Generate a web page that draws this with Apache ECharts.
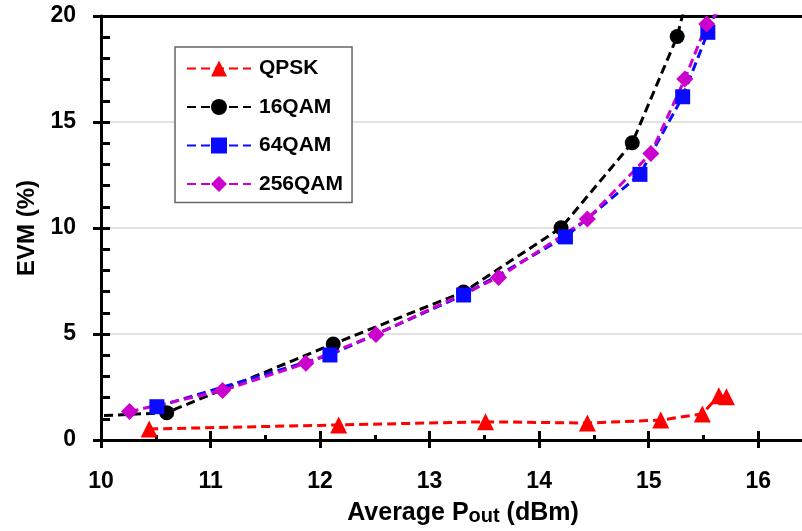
<!DOCTYPE html>
<html>
<head>
<meta charset="utf-8">
<style>
  html, body { margin: 0; padding: 0; background: #fff; }
  #chart { width: 802px; height: 531px; }
</style>
<script src="https://cdn.jsdelivr.net/npm/echarts@6/dist/echarts.min.js"></script>
</head>
<body>
<div id="chart"></div>
<script>
// Average output power (dBm) vs EVM (%) per modulation scheme
const seriesNames = ['QPSK', '16QAM', '64QAM', '256QAM'];

const qpskPout = [10.44, 12.17, 13.51, 14.44, 15.11, 15.49, 15.64, 15.71];
const qpskEvm  = [0.52, 0.71, 0.86, 0.80, 0.94, 1.23, 2.09, 2.04];

const qam16Pout = [9.9, 10.6, 12.12, 13.31, 14.2, 14.85, 15.26, 15.38];
const qam16Evm  = [1.12, 1.29, 4.53, 6.98, 10.01, 14.02, 19.03, 21.5];

const qam64Pout = [10.51, 12.09, 13.31, 14.24, 14.92, 15.31, 15.54, 15.67];
const qam64Evm  = [1.57, 4.01, 6.84, 9.58, 12.53, 16.19, 19.23, 21.0];

const qam256Pout = [10.26, 11.11, 11.87, 12.51, 13.63, 14.44, 15.02, 15.33, 15.53, 15.72];
const qam256Evm  = [1.34, 2.33, 3.62, 4.98, 7.67, 10.42, 13.52, 17.03, 19.62, 20.6];

const xTicks = [10, 11, 12, 13, 14, 15, 16];
const yTicks = [0, 5, 10, 15, 20];

const FONT = '"Liberation Sans", Arial, Helvetica, sans-serif';

function pairs(xs, ys) { return xs.map((x, i) => [x, ys[i]]); }

const chart = echarts.init(document.getElementById('chart'), null, { renderer: 'canvas' });

const X_MIN = 10, X_MAX = 16.5;

function xAxisBase(extra) {
  return Object.assign({
    type: 'value', min: X_MIN, max: X_MAX, position: 'bottom',
    splitLine: { show: false },
    axisLabel: { show: false },
    axisLine: { show: false },
    axisTick: { show: false }
  }, extra);
}

const styleFor = {
  QPSK:     { color: '#ff0000', symbol: 'triangle', size: 17 },
  '16QAM':  { color: '#000000', symbol: 'circle', size: 15 },
  '64QAM':  { color: '#0a0aff', symbol: 'rect', size: 15 },
  '256QAM': { color: '#cc00cc', symbol: 'diamond', size: 17 }
};
const seriesData = {
  QPSK: pairs(qpskPout, qpskEvm),
  '16QAM': pairs(qam16Pout, qam16Evm),
  '64QAM': pairs(qam64Pout, qam64Evm),
  '256QAM': pairs(qam256Pout, qam256Evm)
};

const option = {
  backgroundColor: '#ffffff',
  animation: false,
  grid: { left: 101, right: -11, top: 16, bottom: 91, containLabel: false, outerBoundsMode: 'none' },
  legend: {
    orient: 'vertical',
    left: 175, top: 47,
    padding: [11, 9, 8, 11],
    itemWidth: 64, itemHeight: 20, itemGap: 17.5,
    backgroundColor: '#ffffff',
    borderColor: '#666666', borderWidth: 1.5,
    textStyle: { fontFamily: FONT, fontWeight: 'bold', fontSize: 21, lineHeight: 20, color: '#000', padding: [0, 0, 0, 3] },
    data: seriesNames
  },
  xAxis: [
    // main bottom axis: line, outward ticks, labels, name
    xAxisBase({
      interval: 1,
      axisLine: { show: true, onZero: false, lineStyle: { color: '#000', width: 3 } },
      axisTick: { show: true, length: 8, lineStyle: { color: '#000', width: 3 } },
      axisLabel: {
        show: true, margin: 30, color: '#000', fontFamily: FONT, fontWeight: 'bold', fontSize: 23,
        formatter: v => (xTicks.indexOf(v) >= 0 ? String(v) : '')
      },
      name: '{m|Average P}{s|out}{m| (dBm)}',
      nameLocation: 'middle', nameGap: 61,
      nameTextStyle: {
        padding: [0, 0, 0, 12],
        rich: {
          m: { fontFamily: FONT, fontWeight: 'bold', fontSize: 25, color: '#000' },
          s: { fontFamily: FONT, fontWeight: 'bold', fontSize: 20, color: '#000', verticalAlign: 'bottom', padding: [4, 0, 0, 0] }
        }
      }
    }),
    // inward half of the major ticks
    xAxisBase({
      interval: 1,
      axisTick: { show: true, inside: true, length: 9, lineStyle: { color: '#000', width: 3 } }
    }),
    // inward minor ticks at half-unit steps
    xAxisBase({
      interval: 0.5,
      axisTick: { show: true, inside: true, length: 5, lineStyle: { color: '#000', width: 3 } }
    }),
    // top frame line
    xAxisBase({
      position: 'top',
      axisLine: { show: true, onZero: false, lineStyle: { color: '#000', width: 3 } }
    })
  ],
  yAxis: [
    {
      type: 'value', min: 0, max: 20, interval: 5, position: 'left',
      axisLine: { show: true, onZero: false, lineStyle: { color: '#000', width: 3 } },
      axisTick: { show: true, length: 8, lineStyle: { color: '#000', width: 3 } },
      axisLabel: {
        margin: 25, color: '#000', fontFamily: FONT, fontWeight: 'bold', fontSize: 23,
        formatter: v => (yTicks.indexOf(v) >= 0 ? String(v) : '')
      },
      splitLine: { show: true, lineStyle: { color: '#d9d9d9', width: 1.5 } },
      name: 'EVM (%)', nameLocation: 'middle', nameGap: 60, nameRotate: 90,
      nameTextStyle: { fontFamily: FONT, fontWeight: 'bold', fontSize: 24, color: '#000' }
    },
    {
      type: 'value', min: 0, max: 20, interval: 1, position: 'left',
      axisLine: { show: false },
      axisTick: { show: true, inside: true, length: 9, lineStyle: { color: '#000', width: 3 } },
      axisLabel: { show: false },
      splitLine: { show: false }
    }
  ],
  series: seriesNames.map(name => ({
    name: name,
    type: 'line',
    xAxisIndex: 0, yAxisIndex: 0,
    data: seriesData[name],
    clip: true,
    symbol: styleFor[name].symbol,
    symbolSize: styleFor[name].size,
    showAllSymbol: true,
    color: styleFor[name].color,
    itemStyle: { color: styleFor[name].color },
    lineStyle: { color: styleFor[name].color, width: 3, type: [9, 5] },
    emphasis: { disabled: true }
  }))
};

chart.setOption(option);
</script>
</body>
</html>
